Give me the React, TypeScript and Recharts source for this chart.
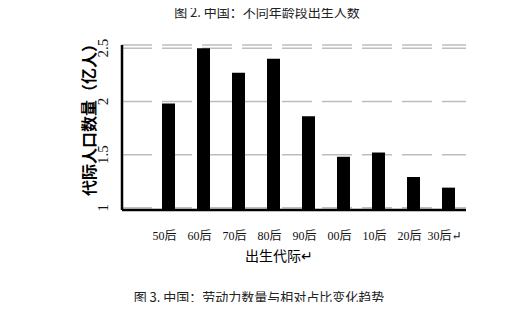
import { BarChart, Bar, XAxis, YAxis, CartesianGrid } from 'recharts';

const generations = ['50后', '60后', '70后', '80后', '90后', '00后', '10后', '20后', '30后↵'];
const population = [1.98, 2.5, 2.27, 2.4, 1.86, 1.48, 1.52, 1.29, 1.19];
const yTicks = [1, 1.5, 2, 2.5];

const data = generations.map((gen, i) => ({ gen, value: population[i] }));

const SERIF = '"Liberation Serif", "DejaVu Serif", "Noto Sans CJK SC", serif';
const CJK = '"Noto Sans CJK SC", sans-serif';

// y tick labels are turned on their side, like the reference
const YTick = ({ x, y, payload }: any) => {
  const cx = x - 11;
  return (
    <text
      x={cx}
      y={y}
      transform={`rotate(-90 ${cx} ${y})`}
      textAnchor="middle"
      dominantBaseline="central"
      fontSize={15}
      fontFamily={SERIF}
      fill="#111"
    >
      {payload.value}
    </text>
  );
};

const XTick = ({ x, y, payload }: any) => (
  <text x={x - 4} y={y + 22} textAnchor="middle" fontSize={12} fontFamily={SERIF} fill="#111">
    {payload.value}
  </text>
);

const App = () => {
  return (
    <div style={{ position: 'relative', width: 518, height: 310, margin: -8 }}>
      <BarChart
        width={518}
        height={310}
        data={data}
        margin={{ top: 45, right: 52, bottom: 60, left: 0 }}
      >
        <CartesianGrid
          vertical={false}
          stroke="#bdbdbd"
          strokeWidth={1.5}
          strokeDasharray="30 10"
        />
        <XAxis
          dataKey="gen"
          height={40}
          padding={{ left: 29, right: 0 }}
          tickLine={false}
          axisLine={{ stroke: '#000', strokeWidth: 2.5 }}
          tick={<XTick />}
          interval={0}
        />
        <YAxis
          width={122}
          domain={[0.98, 2.53]}
          ticks={yTicks}
          tickLine={false}
          axisLine={{ stroke: '#000', strokeWidth: 2.5 }}
          tick={<YTick />}
        />
        <Bar dataKey="value" fill="#000" barSize={13} isAnimationActive={false} />
      </BarChart>
      <svg
        width={518}
        height={310}
        style={{ position: 'absolute', left: 0, top: 0, pointerEvents: 'none' }}
      >
        <text x={267} y={17} textAnchor="middle" fontSize={13} fontFamily={CJK} fill="#222">
          图 2. 中国：不同年龄段出生人数
        </text>
        <text
          x={88}
          y={116}
          transform="rotate(-90 88 116)"
          textAnchor="middle"
          dominantBaseline="central"
          fontSize={16}
          fontWeight="bold"
          fontFamily={CJK}
          fill="#000"
        >
          代际人口数量（亿人）
        </text>
        <text x={279} y={261} textAnchor="middle" fontSize={14} fontFamily={CJK} fill="#000">
          出生代际↵
        </text>
        <text x={259} y={302} textAnchor="middle" fontSize={13} fontFamily={CJK} fill="#222">
          图 3. 中国：劳动力数量与相对占比变化趋势
        </text>
      </svg>
    </div>
  );
};

export default App;
